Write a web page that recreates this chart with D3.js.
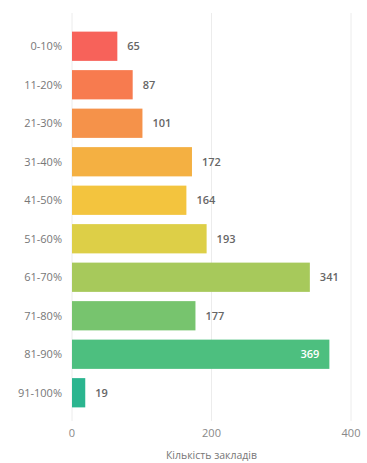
<!DOCTYPE html>
<html>
<head>
<meta charset="utf-8">
<script src="https://cdn.jsdelivr.net/npm/d3@7"></script>
<style>
  body { margin: 0; background: #fff; }
  text { font-family: "Open Sans", sans-serif; }
</style>
</head>
<body>
<div id="chart"></div>
<script>
// data
var categories = ["0-10%", "11-20%", "21-30%", "31-40%", "41-50%", "51-60%", "61-70%", "71-80%", "81-90%", "91-100%"];
var counts = [65, 87, 101, 172, 164, 193, 341, 177, 369, 19];
var barColors = ["#f7625a", "#f77b4f", "#f5924a", "#f4b042", "#f3c43e", "#ddcf47", "#a7c95b", "#77c46e", "#4dbf7f", "#2bb58f"];
var xTicks = [0, 200, 400];
var xTitle = "Кількість закладів";

var width = 367, height = 463;
var margin = {top: 27, right: 16, bottom: 51, left: 72};

var svg = d3.select("#chart")
  .append("svg")
    .attr("width", width)
    .attr("height", height);

var x = d3.scaleLinear()
  .domain([0, 400])
  .range([margin.left, 351]);

var y = d3.scaleBand()
  .domain(categories)
  .range([margin.top, height - margin.bottom])
  .paddingInner(0.24)
  .paddingOuter(0.12);

// grid lines
svg.append("g")
  .selectAll("line")
  .data(xTicks)
  .join("line")
    .attr("x1", function(d) { return x(d); })
    .attr("x2", function(d) { return x(d); })
    .attr("y1", 13)
    .attr("y2", 421)
    .attr("stroke", "#ececec")
    .attr("stroke-width", 1);

// x tick labels
svg.append("g")
  .selectAll("text")
  .data(xTicks)
  .join("text")
    .attr("x", function(d) { return x(d); })
    .attr("y", 437)
    .attr("text-anchor", "middle")
    .style("font-size", "11px")
    .style("fill", "#888")
    .text(function(d) { return d; });

svg.append("text")
  .attr("x", x(200))
  .attr("y", 459)
  .attr("text-anchor", "middle")
  .style("font-size", "10.5px")
  .style("fill", "#777")
  .text(xTitle);

// bars
var rows = categories.map(function(c, i) { return {cat: c, val: counts[i], color: barColors[i]}; });

svg.append("g")
  .selectAll("rect")
  .data(rows)
  .join("rect")
    .attr("x", x(0))
    .attr("y", function(d) { return y(d.cat); })
    .attr("width", function(d) { return x(d.val) - x(0); })
    .attr("height", y.bandwidth())
    .attr("fill", function(d) { return d.color; });

// category labels
svg.append("g")
  .selectAll("text")
  .data(rows)
  .join("text")
    .attr("x", x(0) - 10)
    .attr("y", function(d) { return y(d.cat) + y.bandwidth() / 2; })
    .attr("dy", "0.35em")
    .attr("text-anchor", "end")
    .style("font-size", "11px")
    .style("fill", "#777")
    .text(function(d) { return d.cat; });

// value labels, inside when the bar is long
svg.append("g")
  .selectAll("text")
  .data(rows)
  .join("text")
    .attr("x", function(d) { return d.val > 350 ? x(d.val) - 10 : x(d.val) + 10; })
    .attr("y", function(d) { return y(d.cat) + y.bandwidth() / 2; })
    .attr("dy", "0.35em")
    .attr("text-anchor", function(d) { return d.val > 350 ? "end" : "start"; })
    .style("font-size", "11px")
    .style("font-weight", "600")
    .style("fill", function(d) { return d.val > 350 ? "#fff" : "#666"; })
    .text(function(d) { return d.val; });
</script>
</body>
</html>
